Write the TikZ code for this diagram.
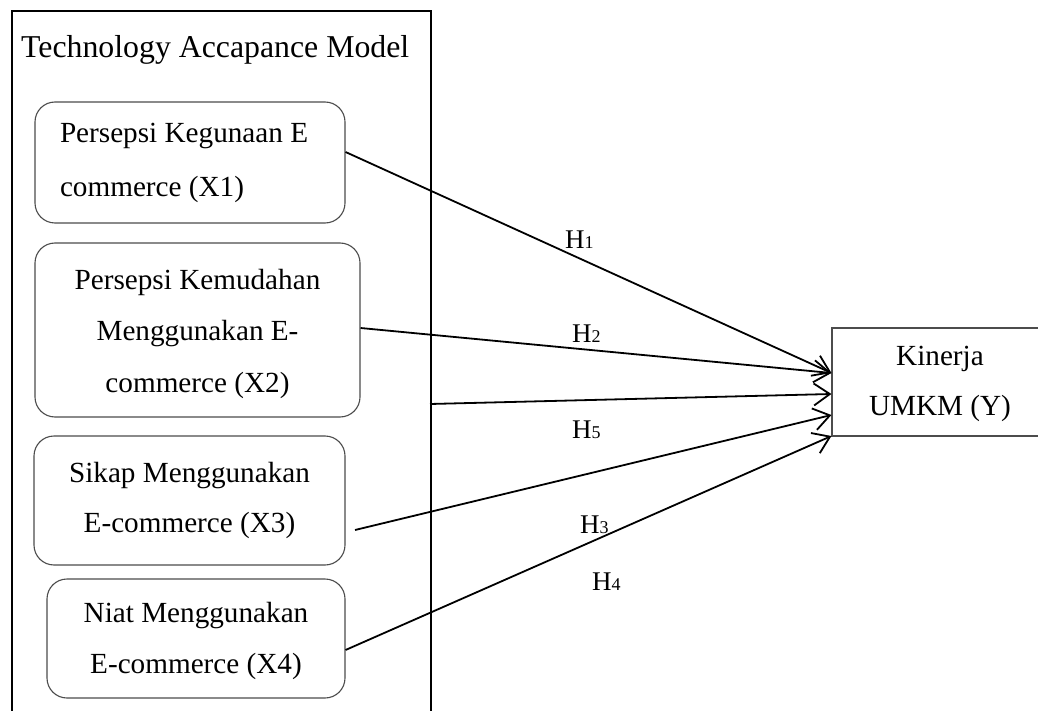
\documentclass[tikz,border=0pt]{standalone}
\usepackage{fontspec}
\setmainfont{Liberation Serif}
\usetikzlibrary{arrows.meta}
\begin{document}
\begin{tikzpicture}[x=1pt,y=-1pt,
  inbox/.style={draw=black!70, line width=1.1pt, rounded corners=20pt, inner sep=0pt, align=center},
  conn/.style={line width=1.8pt, -{Straight Barb[length=16pt,width=22pt,line width=1.8pt]}},
  hlab/.style={anchor=base west, inner sep=0pt, font=\fontsize{27}{27}\selectfont}]
\clip (0,0) rectangle (1038,711);
\fill[white] (0,0) rectangle (1038,711);
% outer frame
\node[draw, line width=2pt, minimum width=419pt, minimum height=760pt, anchor=north west, inner sep=0pt] (tam) at (11,10) {};
\node[anchor=base west, inner sep=0pt, font=\fontsize{31.8}{32}\selectfont] (title) at (21,58) {Technology Accapance Model};
% boxes
\node[inbox, minimum width=310pt, minimum height=121pt, text width=260pt, align=flush left, font=\fontsize{29.2}{54}\selectfont] (x1) at (190,162.5) {Persepsi Kegunaan E\\commerce (X1)};
\node[inbox, minimum width=325pt, minimum height=174pt, font=\fontsize{29.2}{51.5}\selectfont] (x2) at (197.5,330) {\rule{0pt}{28pt}Persepsi Kemudahan\\Menggunakan E-\\commerce (X2)};
\node[inbox, minimum width=311pt, minimum height=129pt, font=\fontsize{29.2}{50}\selectfont] (x3) at (189.5,500.5) {Sikap Menggunakan\\E-commerce (X3)};
\node[inbox, minimum width=298pt, minimum height=119pt, font=\fontsize{29.2}{51}\selectfont] (x4) at (196,638.5) {\rule{0pt}{26pt}Niat Menggunakan\\E-commerce (X4)};
\node[draw=black!70, line width=1.1pt, inner sep=0pt, align=center, minimum width=216pt, minimum height=108pt, font=\fontsize{29.2}{50}\selectfont] (y) at (940,382) {\rule{0pt}{24pt}Kinerja\\UMKM (Y)};
% connector start points
\coordinate (h5s) at (430,404);
\coordinate (x3s) at (355,530);
% connectors
\draw[conn] ([yshift=10.5pt]x1.east) -- ([yshift=9pt]y.west);
\draw[conn] ([yshift=2pt]x2.east) -- ([yshift=9pt]y.west);
\draw[conn] (h5s) -- ([yshift=-12pt]y.west);
\draw[conn] (x3s) -- ([yshift=-33pt]y.west);
\draw[conn] ([yshift=-11.5pt]x4.east) -- ([yshift=-54pt]y.west);
% labels
\node[hlab] (h1) at (565,248) {H{\fontsize{18}{18}\selectfont 1}};
\node[hlab] (h2) at (572,342) {H{\fontsize{18}{18}\selectfont 2}};
\node[hlab] (h5) at (572,438) {H{\fontsize{18}{18}\selectfont 5}};
\node[hlab] (h3) at (580,533) {H{\fontsize{18}{18}\selectfont 3}};
\node[hlab] (h4) at (592,590) {H{\fontsize{18}{18}\selectfont 4}};
\end{tikzpicture}
\end{document}
